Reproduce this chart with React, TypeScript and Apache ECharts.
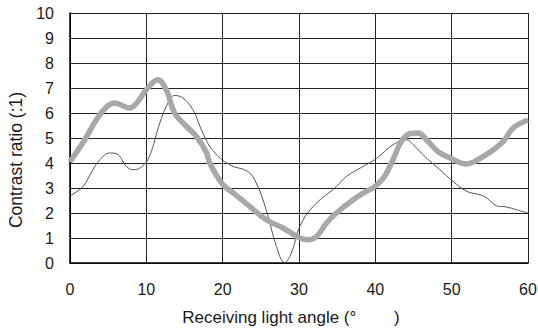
import React, { useEffect, useRef } from "react";
import * as echarts from "echarts";

const thickX = [0, 1.93, 3.46, 4.77, 5.86, 7.82, 8.9, 10.0, 11.5, 12.6, 13.7, 15.26, 16.57, 17.9, 18.3, 20.05, 21.4, 23.55, 25.7, 27.9, 30.1, 31.2, 32.3, 33.6, 34.9, 37.1, 38.85, 39.9, 41.2, 42.3, 43.4, 44.5, 45.6, 46.7, 48.2, 49.8, 51.95, 53.0, 55.0, 56.75, 58.06, 60];
const thickY = [4.05, 4.93, 5.73, 6.24, 6.4, 6.2, 6.46, 6.93, 7.33, 6.93, 6.0, 5.46, 5.06, 4.4, 4.0, 3.13, 2.8, 2.26, 1.73, 1.4, 1.0, 0.93, 1.06, 1.6, 2.0, 2.53, 2.87, 3.05, 3.46, 4.13, 4.86, 5.17, 5.2, 4.93, 4.46, 4.2, 3.96, 4.06, 4.43, 4.86, 5.4, 5.72];

const thinX = [0, 1.7, 3.0, 3.9, 5.2, 6.1, 7.4, 8.26, 9.36, 10.4, 11.76, 12.84, 13.7, 14.8, 16.1, 17.4, 18.7, 20.9, 23.3, 24.4, 25.7, 27.05, 28.1, 29.0, 30.1, 31.85, 34.9, 36.2, 38.2, 40.15, 42.3, 44.1, 44.95, 46.7, 48.45, 50.2, 51.95, 53.7, 54.6, 55.9, 57.2, 58.5, 60];
const thinY = [2.69, 3.06, 3.73, 4.13, 4.4, 4.37, 3.86, 3.73, 3.84, 4.26, 5.6, 6.4, 6.7, 6.6, 6.13, 5.2, 4.5, 3.93, 3.66, 3.2, 2.13, 0.66, 0.02, 0.4, 1.46, 2.26, 3.06, 3.46, 3.83, 4.18, 4.73, 4.93, 4.73, 4.2, 3.73, 3.26, 2.87, 2.73, 2.6, 2.29, 2.24, 2.13, 2.0];

const xTicks = [0, 60, 10];
const yTicks = [0, 10, 1];
const xName = "Receiving light angle (°        )";
const yName = "Contrast ratio (:1)";

export default function App() {
  const ref = useRef<HTMLDivElement>(null);
  useEffect(() => {
    if (!ref.current) return;
    const chart = echarts.init(ref.current, null, { renderer: "svg" });
    const font = "'Liberation Sans', Arial, sans-serif";
    chart.setOption({
      animation: false,
      backgroundColor: "#ffffff",
      grid: { left: 70, right: 10, top: 13, bottom: 67, containLabel: false, outerBoundsMode: "none" },
      xAxis: {
        type: "value",
        min: xTicks[0],
        max: xTicks[1],
        interval: xTicks[2],
        name: xName,
        nameLocation: "middle",
        nameGap: 46,
        nameTextStyle: { fontSize: 17, color: "#1a1a1a", fontFamily: font, padding: [0, 16, 0, 0] },
        axisLine: { show: true, lineStyle: { color: "#000", width: 1.5 } },
        axisTick: { show: false },
        axisLabel: { fontSize: 16, color: "#1a1a1a", fontFamily: font, margin: 18 },
        splitLine: { show: true, lineStyle: { color: "#222", width: 1 } },
      },
      yAxis: {
        type: "value",
        min: yTicks[0],
        max: yTicks[1],
        interval: yTicks[2],
        name: yName,
        nameLocation: "middle",
        nameGap: 45,
        nameTextStyle: { fontSize: 17.5, color: "#1a1a1a", fontFamily: font, padding: [0, 44, 0, 0] },
        axisLine: { show: true, lineStyle: { color: "#000", width: 1.5 } },
        axisTick: { show: false },
        axisLabel: { fontSize: 16, color: "#1a1a1a", fontFamily: font, margin: 16 },
        splitLine: { show: true, lineStyle: { color: "#222", width: 1 } },
      },
      series: [
        {
          type: "line",
          data: thinX.map((x, i) => [x, thinY[i]]),
          smooth: 0.4,
          showSymbol: false,
          lineStyle: { color: "#555", width: 1 },
          z: 3,
        },
        {
          type: "line",
          data: thickX.map((x, i) => [x, thickY[i]]),
          smooth: 0.4,
          showSymbol: false,
          lineStyle: { color: "#a8a8a8", width: 5.5 },
          z: 4,
        },
      ],
    });
    return () => chart.dispose();
  }, []);
  return <div ref={ref} style={{ width: 538, height: 330, position: "absolute", left: 0, top: 0 }} />;
}
